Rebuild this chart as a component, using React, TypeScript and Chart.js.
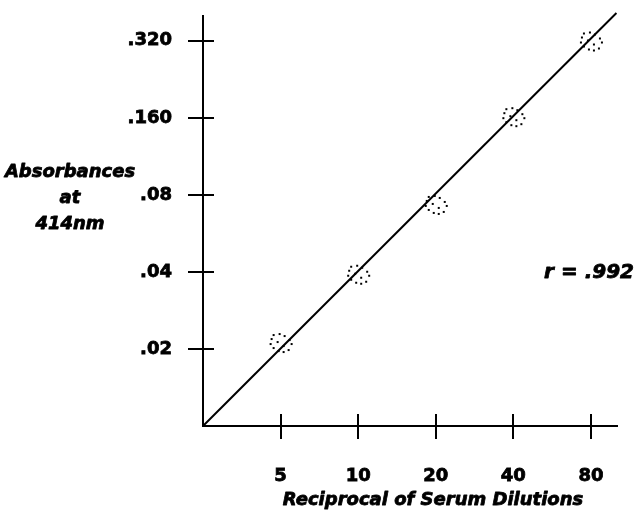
import React, { useEffect, useRef } from 'react';
import { Chart, registerables } from 'chart.js';

Chart.register(...registerables);

// ---- data ----
const DILUTIONS = [5, 10, 20, 40, 80];
const ABSORBANCES = [0.0211, 0.039, 0.0731, 0.161, 0.318];
const FIT_X = [2.5, 100.5];
const FIT_Y = [0.01, 0.411];
const X_TICKS = [5, 10, 20, 40, 80];
const X_TICK_LABELS = ['5', '10', '20', '40', '80'];
const Y_TICKS = [0.02, 0.04, 0.08, 0.16, 0.32];
const Y_TICK_LABELS = ['.02', '.04', '.08', '.160', '.320'];
const X_RANGE = [2.5, 101];
const Y_RANGE = [0.01, 0.4];
const Y_TITLE_LINES = ['Absorbances', 'at', '414nm'];
const X_TITLE = 'Reciprocal of Serum Dilutions';
const R_LABEL = 'r = .992';

const FONT = '"DejaVu Sans", "Liberation Sans", sans-serif';

function makeDotRing(): HTMLCanvasElement {
  const c = document.createElement('canvas');
  c.width = 28;
  c.height = 28;
  const g = c.getContext('2d')!;
  g.fillStyle = '#000';
  const offs = [
    [-7, -8], [-1, -9], [4, -7], [9, -3], [11, 1], [-3, -1], [-10, 1],
    [-7, 5], [3, 3], [-2, 8], [3, 9], [8, 7], [-9, -4],
  ];
  offs.forEach(([dx, dy]) => {
    g.fillRect(13 + dx, 13 + dy, 2, 2);
  });
  return c;
}

function boldText(ctx: CanvasRenderingContext2D, t: string, x: number, y: number) {
  ctx.fillText(t, x, y);
  ctx.strokeText(t, x, y);
}

const decorPlugin = {
  id: 'decor',
  afterDraw(chart: any) {
    const { ctx, chartArea, scales } = chart;
    const xs = scales.x;
    const ys = scales.y;
    ctx.save();
    ctx.strokeStyle = '#000';
    ctx.lineWidth = 2;
    // crossing tick marks
    Y_TICKS.forEach((v) => {
      const y = Math.round(ys.getPixelForValue(v));
      ctx.beginPath();
      ctx.moveTo(chartArea.left - 15, y);
      ctx.lineTo(chartArea.left + 11, y);
      ctx.stroke();
    });
    X_TICKS.forEach((v) => {
      const x = Math.round(xs.getPixelForValue(v));
      ctx.beginPath();
      ctx.moveTo(x, chartArea.bottom - 12);
      ctx.lineTo(x, chartArea.bottom + 13);
      ctx.stroke();
    });
    // texts
    ctx.fillStyle = '#000';
    ctx.lineWidth = 0.8;
    ctx.lineJoin = 'round';
    ctx.textBaseline = 'middle';
    ctx.font = `italic bold 18px ${FONT}`;
    ctx.textAlign = 'center';
    Y_TITLE_LINES.forEach((t, i) => {
      boldText(ctx, t, 70, 172 + i * 26);
    });
    boldText(ctx, X_TITLE, 433, 500);
    ctx.font = `italic bold 20px ${FONT}`;
    ctx.textAlign = 'right';
    boldText(ctx, R_LABEL, 634, 273);
    ctx.restore();
  },
};

export default function App() {
  const ref = useRef<HTMLCanvasElement>(null);

  useEffect(() => {
    const canvas = ref.current!;
    const dots = makeDotRing();
    const tickFont = { family: FONT, size: 18, weight: 'bold' as const };
    const chart = new Chart(canvas, {
      type: 'scatter',
      data: {
        datasets: [
          {
            label: 'fit',
            data: FIT_X.map((x, i) => ({ x, y: FIT_Y[i] })),
            showLine: true,
            borderColor: '#000',
            borderWidth: 2,
            pointRadius: 0,
            clip: false as any,
          },
          {
            label: 'samples',
            data: DILUTIONS.map((x, i) => ({ x, y: ABSORBANCES[i] })),
            showLine: false,
            pointStyle: dots as any,
            pointRadius: 10,
          },
        ],
      },
      options: {
        responsive: false,
        animation: false,
        devicePixelRatio: 1,
        layout: { autoPadding: false, padding: { top: 16, right: 19, left: 0, bottom: 0 } },
        plugins: { legend: { display: false }, tooltip: { enabled: false } },
        scales: {
          x: {
            type: 'logarithmic',
            min: X_RANGE[0],
            max: X_RANGE[1],
            afterBuildTicks: (s: any) => {
              s.ticks = X_TICKS.map((v) => ({ value: v }));
            },
            afterFit: (s: any) => {
              s.height = 90;
              s.paddingLeft = 0;
              s.paddingRight = 0;
            },
            grid: { display: false, drawTicks: false, tickLength: 0 },
            border: { display: true, color: '#000', width: 2 },
            ticks: {
              autoSkip: false,
              maxRotation: 0,
              padding: 40,
              color: '#000',
              textStrokeColor: '#000',
              textStrokeWidth: 0.8,
              font: tickFont,
              callback: (_v: any, i: number) => X_TICK_LABELS[i],
            },
          },
          y: {
            type: 'logarithmic',
            min: Y_RANGE[0],
            max: Y_RANGE[1],
            afterBuildTicks: (s: any) => {
              s.ticks = Y_TICKS.map((v) => ({ value: v }));
            },
            afterFit: (s: any) => {
              s.width = 203;
              s.paddingTop = 0;
              s.paddingBottom = 0;
            },
            grid: { display: false, drawTicks: false, tickLength: 0 },
            border: { display: true, color: '#000', width: 2 },
            ticks: {
              autoSkip: false,
              padding: 31,
              color: '#000',
              textStrokeColor: '#000',
              textStrokeWidth: 0.8,
              font: tickFont,
              callback: (_v: any, i: number) => Y_TICK_LABELS[i],
            },
          },
        },
      } as any,
      plugins: [decorPlugin],
    });
    return () => chart.destroy();
  }, []);

  return (
    <div style={{ position: 'fixed', left: 0, top: 0, width: 636, height: 516, background: '#fff' }}>
      <canvas ref={ref} width={636} height={516} style={{ width: 636, height: 516, display: 'block' }} />
    </div>
  );
}
